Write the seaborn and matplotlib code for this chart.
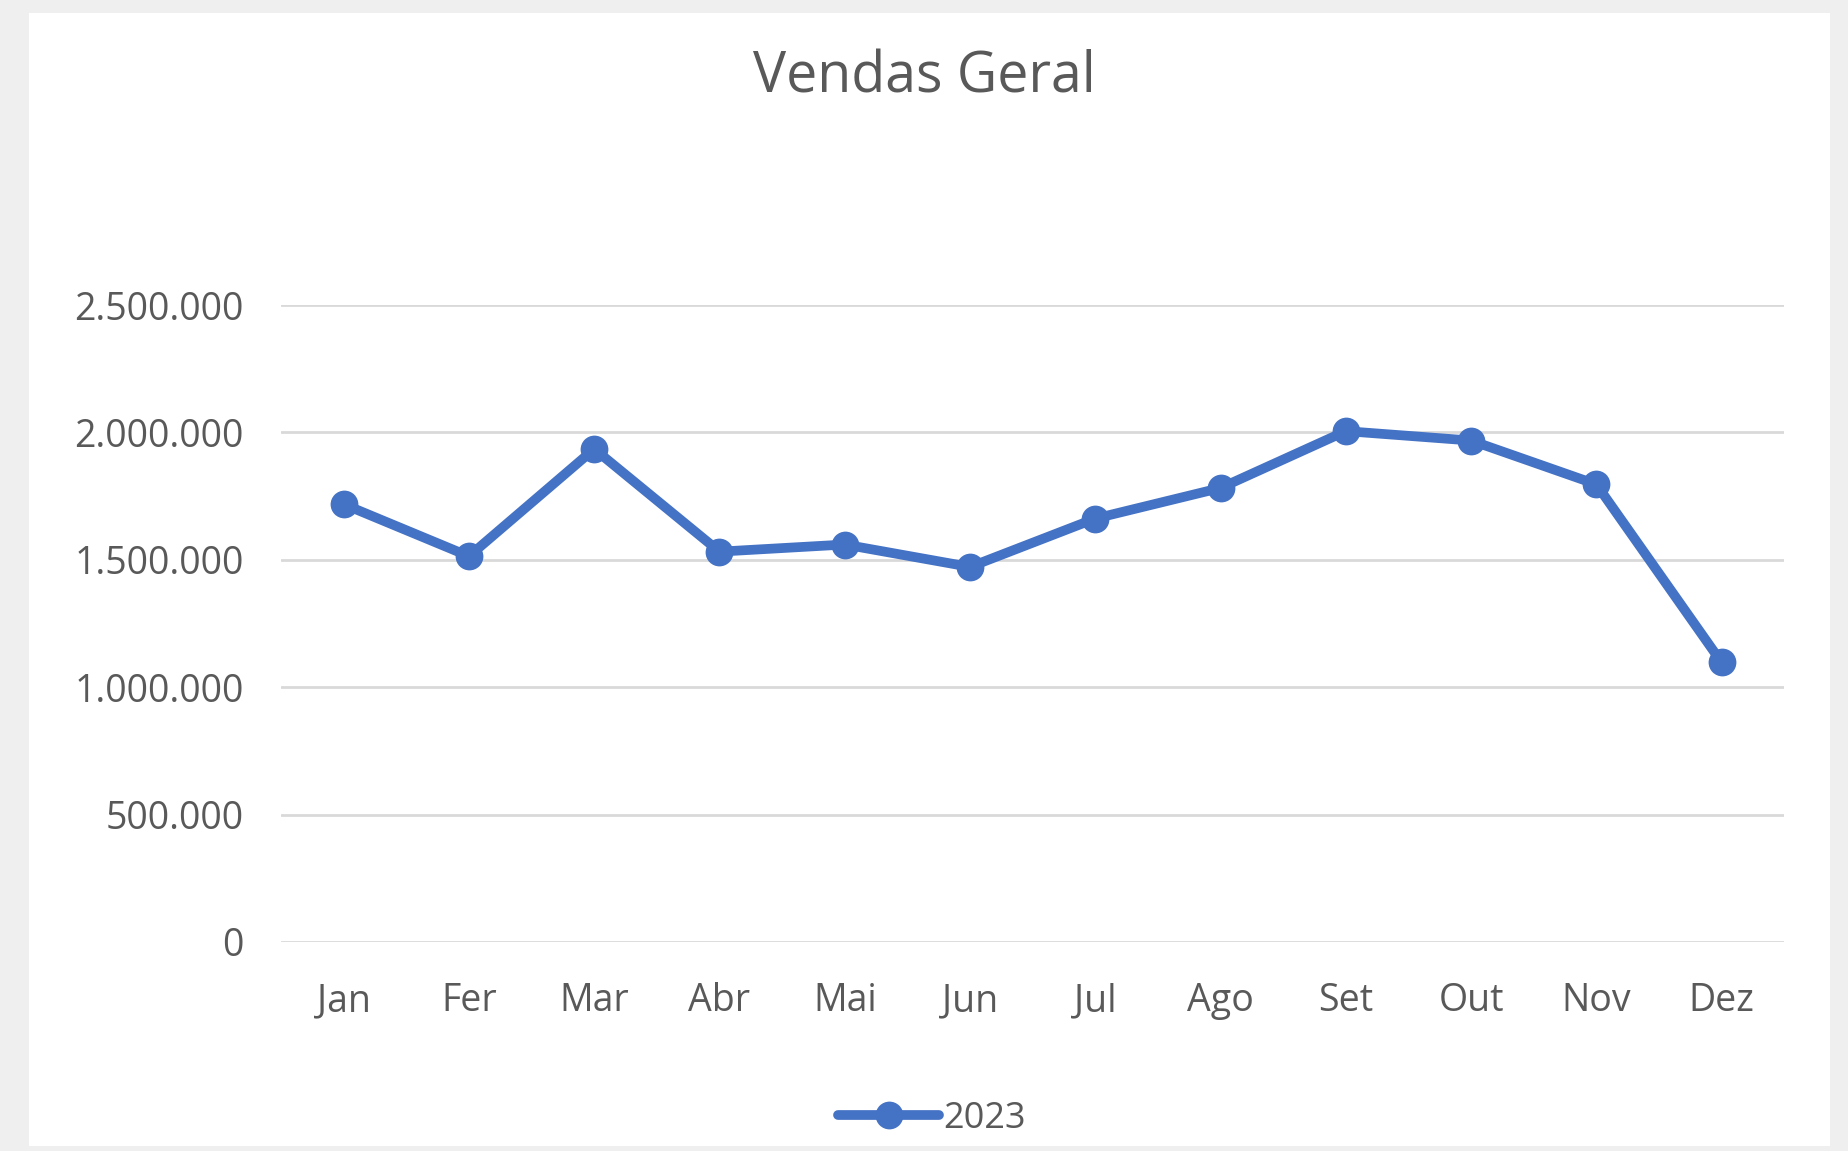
import numpy as np
import pandas as pd
import seaborn as sns
import matplotlib.pyplot as plt
from matplotlib.ticker import FuncFormatter
from matplotlib.patches import Rectangle

# dados
meses = ['Jan', 'Fer', 'Mar', 'Abr', 'Mai', 'Jun', 'Jul', 'Ago', 'Set', 'Out', 'Nov', 'Dez']
vendas_2023 = [1718000, 1514000, 1935000, 1532000, 1560000, 1472000,
               1662000, 1782000, 2005000, 1968000, 1796000, 1097000]
y_ticks = [0, 500000, 1000000, 1500000, 2000000, 2500000]

df = pd.DataFrame({'mes': meses, 'vendas': vendas_2023, 'ano': '2023'})

sns.set_style('white')
plt.rcParams['font.family'] = ['Open Sans', 'DejaVu Sans']

fig = plt.figure(figsize=(18.49, 11.51), dpi=100)
fig.patch.set_facecolor('#efefef')
# fundo branco do grafico
fundo = Rectangle((29 / 1849, 1 - 1146 / 1151), (1830 - 29) / 1849, (1146 - 13) / 1151,
                  transform=fig.transFigure, facecolor='white', edgecolor='none', zorder=-10)
fig.add_artist(fundo)

ax = fig.add_axes([0.152, 0.1816, 0.813, 0.5534])
ax.set_facecolor('white')

sns.lineplot(data=df, x='mes', y='vendas', hue='ano', palette=['#4472C4'], sort=False,
             marker='o', markersize=20, linewidth=7, markeredgewidth=0, ax=ax)

ax.set_xlim(-0.5, len(meses) - 0.5)
ax.set_ylim(0, 2500000)
ax.set_yticks(y_ticks)
ax.yaxis.set_major_formatter(FuncFormatter(lambda v, p: f'{int(v):,}'.replace(',', '.')))
ax.grid(axis='y', color='#d9d9d9', linewidth=2)
ax.set_axisbelow(True)
for s in ax.spines.values():
    s.set_visible(False)
ax.tick_params(axis='both', length=0, labelsize=27, labelcolor='#595959')
ax.tick_params(axis='y', pad=27)
ax.tick_params(axis='x', pad=29)
ax.set_xlabel('')
ax.set_ylabel('')

fig.text(0.5, 1 - 78 / 1151, 'Vendas Geral', ha='center', va='center', fontsize=40, color='#595959')

leg = ax.legend(loc='center', bbox_to_anchor=(0.433, -0.278), frameon=False, fontsize=26,
                handlelength=2.8, handletextpad=0.1, markerscale=1.0)
for t in leg.get_texts():
    t.set_color('#595959')

fig.savefig('out.png', dpi=100, facecolor=fig.get_facecolor())
